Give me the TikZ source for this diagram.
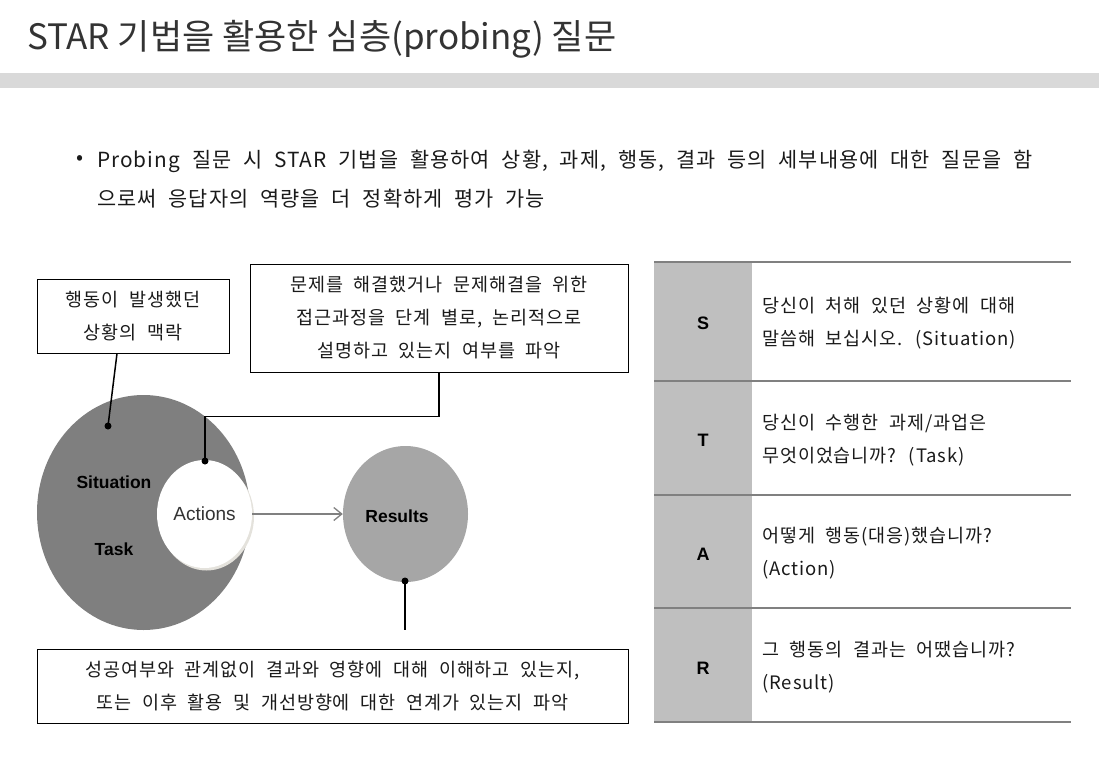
\documentclass[tikz,border=0pt]{standalone}
\usepackage{fontspec}
\setmainfont{Noto Sans CJK KR}[WordSpace=2.1,LetterSpace=5]
\newfontfamily\titlefont{Noto Sans CJK KR}
\newfontfamily\arialfont{Liberation Sans}
\usetikzlibrary{shapes.geometric,arrows.meta}
\definecolor{txt}{HTML}{1A1A1A}
\definecolor{titlec}{HTML}{333333}
\definecolor{bandc}{HTML}{D9D9D9}
\definecolor{sitgray}{HTML}{7F7F7F}
\definecolor{resgray}{HTML}{A6A6A6}
\definecolor{colgray}{HTML}{BFBFBF}
\definecolor{rulec}{HTML}{808080}
\definecolor{shadowc}{HTML}{E4E2DC}
\tikzset{
  box/.style={draw=black, line width=1pt, fill=white, align=center, inner sep=0pt,
    font=\fontsize{18.5}{33}\selectfont, text=txt},
  lbl/.style={font=\arialfont\bfseries\fontsize{17.5}{17.5}\selectfont, text=black, inner sep=0pt},
  conn/.style={draw=black, line width=1.5pt},
  dot/.style={fill=black},
  rule/.style={draw=rulec, line width=1.5pt},
  letter/.style={font=\arialfont\bfseries\fontsize{18}{18}\selectfont, text=black, inner sep=0pt},
  cell/.style={anchor=west, align=left, inner sep=0pt, font=\fontsize{18.5}{33}\selectfont, text=txt},
  bubble/.style={ellipse, inner sep=0pt},
}
\begin{document}
\begin{tikzpicture}[x=1pt,y=-1pt]
\useasboundingbox (0,0) rectangle (1099,765);
% title
\node[anchor=base west, inner sep=0pt, font=\titlefont\fontsize{35}{35}\selectfont, text=titlec] (title) at (27,50) {STAR 기법을 활용한 심층(probing) 질문};
\fill[bandc] (0,73) rectangle (1099,88);
% bullet
\node[inner sep=0pt, font=\fontsize{20.8}{39}\selectfont, text=txt] (bul) at (80,160) {•};
\node[anchor=west, align=left, inner sep=0pt, font=\fontsize{20.8}{39}\selectfont, text=txt] (intro) at (97,179.5)
  {Probing 질문 시 STAR 기법을 활용하여 상황, 과제, 행동, 결과 등의 세부내용에 대한 질문을 함\\으로써 응답자의 역량을 더 정확하게 평가 가능};
% boxes
\node[box, minimum width=192, minimum height=74] (ctx) at (133,316) {행동이 발생했던\\상황의 맥락};
\node[box, minimum width=378, minimum height=108] (proc) at (439,318) {문제를 해결했거나 문제해결을 위한\\접근과정을 단계 별로, 논리적으로\\설명하고 있는지 여부를 파악};
\node[box, minimum width=591, minimum height=74] (eval) at (332.5,686) {성공여부와 관계없이 결과와 영향에 대해 이해하고 있는지,\\또는 이후 활용 및 개선방향에 대한 연계가 있는지 파악};
% circles
\node[bubble, fill=sitgray, minimum width=213, minimum height=235] (sit) at (143.5,512.5) {};
\node[bubble, fill=shadowc, minimum width=95, minimum height=108] (actshadow) at (206.5,516.5) {};
\node[bubble, fill=white, minimum width=95, minimum height=108, font=\arialfont\fontsize{19}{19}\selectfont, text=titlec] (act) at (204.5,514) {Actions};
\node[lbl] (sitl) at (114,482) {Situation};
\node[lbl] (taskl) at (114,549) {Task};
\node[bubble, fill=resgray, minimum width=125, minimum height=136] (res) at (405.5,514) {};
\node[lbl] (resl) at (397,516) {Results};
\draw[draw=rulec, line width=1.3pt, -{Straight Barb[length=8pt,width=13pt]}] (act.east) -- (res.west);
% connectors
\coordinate (sdot) at (108,426);
\coordinate (adot) at (205,461);
\coordinate (rdot) at (405,581);
\coordinate (rend) at (405,630);
\draw[conn] ([xshift=-16pt]ctx.south) -- (sdot);
\draw[conn] (proc.south) -- ++(0,44) -| (adot);
\draw[conn] (rdot) -- (rend);
\fill[dot] (sdot) circle (3.5pt);
\fill[dot] (adot) circle (3.5pt);
\fill[dot] (rdot) circle (3.5pt);
% table
\fill[colgray] (654,262) rectangle (752,722);
\foreach \yy in {262,381,495,608,722} \draw[rule] (654,\yy) -- (1071,\yy);
\node[letter] (ls) at (703,323) {S};
\node[letter] (lt) at (703,440) {T};
\node[letter] (la) at (703,554) {A};
\node[letter] (lr) at (703,668) {R};
\node[cell] (cs) at (762,323.5) {당신이 처해 있던 상황에 대해\\말씀해 보십시오. (Situation)};
\node[cell] (ct) at (762,440.5) {당신이 수행한 과제/과업은\\무엇이었습니까? (Task)};
\node[cell] (ca) at (762,553.5) {어떻게 행동(대응)했습니까?\\(Action)};
\node[cell] (cr) at (762,667) {그 행동의 결과는 어땠습니까?\\(Result)};
\end{tikzpicture}
\end{document}
